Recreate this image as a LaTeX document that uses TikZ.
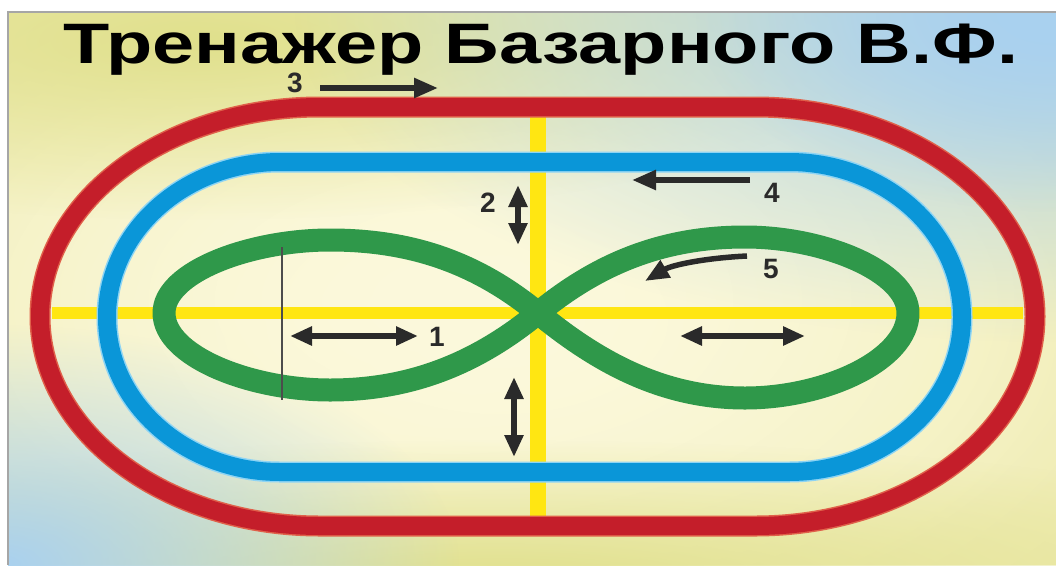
\documentclass[tikz,border=0pt]{standalone}
\usepackage{fontspec}
\usepackage{graphicx}
\setmainfont{Liberation Sans}
\usetikzlibrary{arrows.meta,fadings}
\definecolor{ink}{HTML}{2A2A2A}
\definecolor{trackred}{HTML}{C41E2A}
\definecolor{rededge}{HTML}{E0604A}
\definecolor{trackblue}{HTML}{0A96D8}
\definecolor{blueedge}{HTML}{8ED4F4}
\definecolor{trackgreen}{HTML}{2F984A}
\definecolor{crossyellow}{HTML}{FFE612}
\definecolor{bgbase}{HTML}{EAE7A0}
\definecolor{bgcream}{HTML}{FCF9DC}
\definecolor{bgblue}{HTML}{A9D1F0}
\definecolor{bgyg}{HTML}{E0E08C}
\tikzfading[name=softfade, inner color=transparent!0, outer color=transparent!100]
\newsavebox\titlebox
\begin{document}
\sbox\titlebox{\fontsize{57}{60}\selectfont\bfseries Тренажер Базарного В.Ф.}%
\begin{tikzpicture}[x=1pt,y=-1pt,
  lbl/.style={font=\fontsize{28}{30}\selectfont\bfseries, text=ink, inner sep=0pt},
  onearrow/.style={draw=ink, line width=5.5pt, -{Triangle[length=24pt,width=19pt]}},
  twoarrow/.style={draw=ink, line width=5.5pt, {Triangle[length=22pt,width=18pt]}-{Triangle[length=22pt,width=18pt]}},
  track/.style={line width=#1, line join=round}
]
\useasboundingbox (0,0) rectangle (1056,565);
\fill[white] (0,0) rectangle (1056,565);
% background panel
\begin{scope}
\clip (8,12) rectangle (1056,565);
\fill[bgbase] (8,12) rectangle (1056,565);
\fill[bgcream, path fading=softfade] (500,320) ellipse [x radius=1000, y radius=560];
\fill[bgcream, path fading=softfade] (450,300) ellipse [x radius=700, y radius=380];
\fill[bgyg, path fading=softfade] (200,40) ellipse [x radius=700, y radius=180];
\fill[bgyg, path fading=softfade] (500,580) ellipse [x radius=900, y radius=140];
\fill[bgblue, path fading=softfade] (1056,12) ellipse [x radius=760, y radius=330];
\fill[bgblue, path fading=softfade] (1056,12) ellipse [x radius=360, y radius=200];
\fill[bgblue, path fading=softfade] (0,565) ellipse [x radius=460, y radius=240];
\end{scope}
\draw[gray!70, line width=1.5pt] (8,565) -- (8,12) -- (1056,12);
% title
\node[anchor=base west, inner sep=0pt, text=ink] (title) at (63,63) {\resizebox{955pt}{\ht\titlebox}{\usebox\titlebox}};
% yellow cross
\draw[crossyellow, line width=12pt] (52,313) -- (1023,313);
\draw[crossyellow, line width=16pt] (538,117) -- (538,517);
% red track
\draw[rededge, track=21pt] (320,107) -- (755,107)
  arc[start angle=270, end angle=450, x radius=280, y radius=209.5]
  -- (320,526) arc[start angle=90, end angle=270, x radius=280, y radius=209.5] -- cycle;
\draw[trackred, track=18pt] (320,107) -- (755,107)
  arc[start angle=270, end angle=450, x radius=280, y radius=209.5]
  -- (320,526) arc[start angle=90, end angle=270, x radius=280, y radius=209.5] -- cycle;
% blue track
\draw[blueedge, track=21pt] (280,162) -- (789,162)
  arc[start angle=270, end angle=450, x radius=173, y radius=155]
  -- (280,472) arc[start angle=90, end angle=270, x radius=173, y radius=155] -- cycle;
\draw[trackblue, track=18pt] (280,162) -- (789,162)
  arc[start angle=270, end angle=450, x radius=173, y radius=155]
  -- (280,472) arc[start angle=90, end angle=270, x radius=173, y radius=155] -- cycle;
% green figure eight
\coordinate (C) at (538,313);
\draw[trackgreen, track=23pt] (C)
  .. controls (476,262) and (410,240) .. (330,240)
  .. controls (250,240) and (164,272) .. (164,313)
  .. controls (164,356) and (250,390) .. (330,390)
  .. controls (410,390) and (476,364) .. (C)
  .. controls (600,262) and (665,237) .. (745,237)
  .. controls (825,237) and (908,272) .. (908,313)
  .. controls (908,360) and (825,398) .. (745,398)
  .. controls (665,398) and (600,364) .. (C) -- cycle;
% thin gray line
\coordinate (g1) at (282,247);
\coordinate (g2) at (282,400);
\draw[gray!60!black, line width=1.2pt] (g1) -- (g2);
% arrows
\coordinate (a3s) at (320,88);  \coordinate (a3e) at (438,88);
\coordinate (a4s) at (750,180); \coordinate (a4e) at (632,180);
\coordinate (a2s) at (518,185); \coordinate (a2e) at (518,245);
\coordinate (a6s) at (514,377); \coordinate (a6e) at (514,457);
\coordinate (a1s) at (290,336); \coordinate (a1e) at (418,336);
\coordinate (a7s) at (680,336); \coordinate (a7e) at (805,336);
\coordinate (a5s) at (747,256); \coordinate (a5e) at (645,281);
\draw[onearrow] (a3s) -- (a3e);
\draw[onearrow] (a4s) -- (a4e);
\draw[twoarrow] (a2s) -- (a2e);
\draw[twoarrow] (a6s) -- (a6e);
\draw[twoarrow] (a1s) -- (a1e);
\draw[twoarrow] (a7s) -- (a7e);
\draw[onearrow] (a5s) .. controls (705,258) and (672,265) .. (a5e);
% labels
\node[lbl] (l3) at (295,83) {3};
\node[lbl] (l4) at (772,193) {4};
\node[lbl] (l2) at (488,203) {2};
\node[lbl] (l1) at (437,337) {1};
\node[lbl] (l5) at (771,269) {5};
\end{tikzpicture}
\end{document}
